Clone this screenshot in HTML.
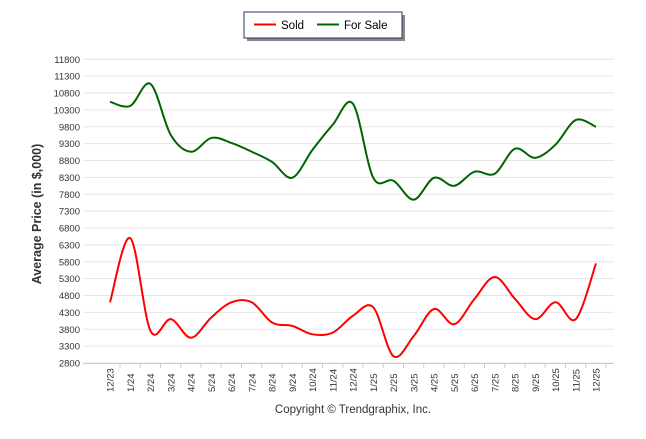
<!DOCTYPE html>
<html><head><meta charset="utf-8"><style>
body{margin:0;background:#fff;width:646px;height:434px;overflow:hidden;font-family:"Liberation Sans",sans-serif}
</style></head><body>
<svg id="c" width="646" height="434"></svg>
<script>
const categories=["12/23","1/24","2/24","3/24","4/24","5/24","6/24","7/24","8/24","9/24","10/24","11/24","12/24","1/25","2/25","3/25","4/25","5/25","6/25","7/25","8/25","9/25","10/25","11/25","12/25"];
const soldValues=[4600,6500,3750,4100,3550,4150,4600,4600,4000,3900,3650,3700,4200,4450,3000,3600,4400,3950,4700,5350,4700,4100,4600,4100,5750];
const forSaleValues=[10540,10420,11070,9560,9060,9470,9320,9060,8760,8290,9120,9860,10480,8290,8200,7640,8290,8050,8470,8410,9150,8880,9270,10000,9800];
const yTicks=[2800,3300,3800,4300,4800,5300,5800,6300,6800,7300,7800,8300,8800,9300,9800,10300,10800,11300,11800];
const NS="http://www.w3.org/2000/svg";
const svg=document.getElementById('c');
const X0=110,DX=20.25,Y0=363,Y1=59.3,VMIN=2800,VMAX=11800;
const x=i=>X0+i*DX;
const y=v=>Y0-(v-VMIN)/(VMAX-VMIN)*(Y0-Y1);
function el(t,a,p){const e=document.createElementNS(NS,t);for(const k in a)e.setAttribute(k,a[k]);(p||svg).appendChild(e);return e;}
yTicks.forEach(v=>{
 const g=el('line',{x1:83,x2:614,y1:y(v),y2:y(v),stroke:'#e6e6e6','stroke-width':1});
 
 
 const t=el('text',{x:80,y:y(v)+3.5,'text-anchor':'end','font-size':9.5,fill:'#333'});
 t.textContent=v;
 
 
});
const ax=el('line',{x1:83,x2:614,y1:Y0+0.5,y2:Y0+0.5,stroke:'#ccc'});


categories.forEach((c,i)=>{
 const tk=el('line',{x1:x(i)+10,x2:x(i)+10,y1:Y0,y2:Y0+5,stroke:'#ccc'});
 
 
 const t=el('text',{transform:`translate(${x(i)+3.5},${Y0+29}) rotate(-90)`,'font-size':9.5,fill:'#333'});
 t.textContent=c;
 
 
});
function path(vals){
 const p=vals.map((v,i)=>[x(i),y(v)]);
 let d=`M${p[0][0]},${p[0][1]}`;
 for(let i=0;i<p.length-1;i++){
  const a=p[Math.max(0,i-1)],b=p[i],c=p[i+1],e=p[Math.min(p.length-1,i+2)];
  const t=6;
  d+=` C${b[0]+(c[0]-a[0])/t},${b[1]+(c[1]-a[1])/t} ${c[0]-(e[0]-b[0])/t},${c[1]-(e[1]-b[1])/t} ${c[0]},${c[1]}`;
 }
 return d;
}
const fs=el('path',{d:path(forSaleValues),fill:'none',stroke:'#006400','stroke-width':2});


const sd=el('path',{d:path(soldValues),fill:'none',stroke:'#ff0000','stroke-width':2});


const yt=el('text',{transform:'translate(41,214) rotate(-90)','text-anchor':'middle','font-size':12.5,'font-weight':'bold',fill:'#333'});
yt.textContent='Average Price (in $,000)';


const cp=el('text',{x:353,y:413,'text-anchor':'middle','font-size':11.5,fill:'#333'});
cp.textContent='Copyright © Trendgraphix, Inc.';


const lg=el('g',{});


el('rect',{x:247,y:15,width:158,height:26,fill:'#888'},lg);
el('rect',{x:244,y:12,width:158,height:26,fill:'#fff',stroke:'#1f3864','stroke-width':1},lg);
el('line',{x1:254,x2:276,y1:24.5,y2:24.5,stroke:'#ff0000','stroke-width':2},lg);
const l1=el('text',{x:281,y:29,'font-size':11.5,fill:'#000'},lg);l1.textContent='Sold';


el('line',{x1:317,x2:339,y1:24.5,y2:24.5,stroke:'#006400','stroke-width':2},lg);
const l2=el('text',{x:344,y:29,'font-size':11.5,fill:'#000'},lg);l2.textContent='For Sale';


</script>
</body></html>
